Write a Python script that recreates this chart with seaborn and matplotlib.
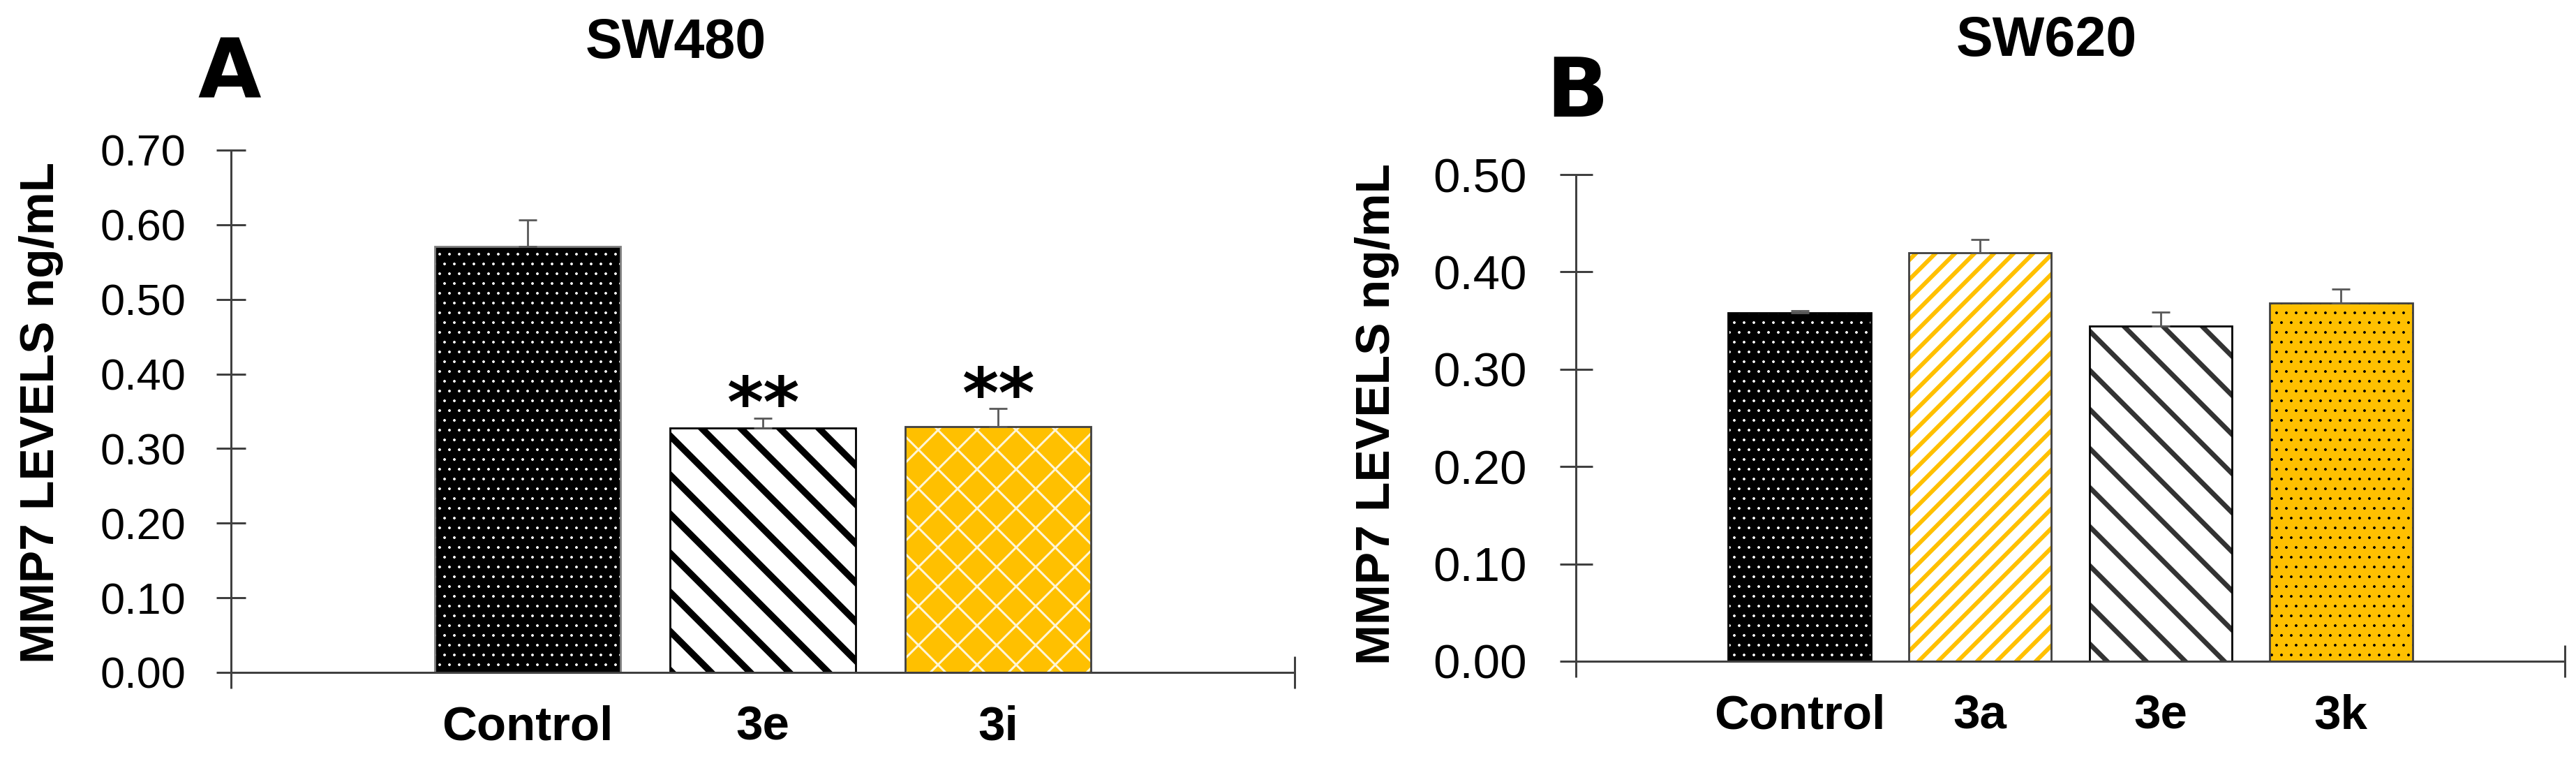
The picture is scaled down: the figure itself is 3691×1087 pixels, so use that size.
import matplotlib
matplotlib.use("Agg")
import matplotlib.pyplot as plt
from matplotlib.patches import Rectangle
import seaborn as sns
import pandas as pd
import numpy as np

# ---------------- data ----------------
ylabel_text = "MMP7 LEVELS ng/mL"

a_letter = "A"
a_title = "SW480"
a_categories = ["Control", "3e", "3i"]
a_values = [0.571, 0.328, 0.329]
a_errors = [0.035, 0.013, 0.025]
a_marks = ["", "**", "**"]
a_yticks = [0.00, 0.10, 0.20, 0.30, 0.40, 0.50, 0.60, 0.70]

b_letter = "B"
b_title = "SW620"
b_categories = ["Control", "3a", "3e", "3k"]
b_values = [0.358, 0.420, 0.344, 0.368]
b_errors = [0.002, 0.013, 0.015, 0.014]
b_marks = ["", "", "", ""]
b_yticks = [0.00, 0.10, 0.20, 0.30, 0.40, 0.50]

# ---------------- figure setup ----------------
W, H, DPI = 3692, 1087, 168


def pt(px):
    """convert pixels of the output image to points"""
    return px * 72.0 / DPI


GOLD = "#FFC000"
# hatch line widths given in output pixels
a_styles = [
    dict(face="black", hatch="..", hcolor="white", hlw=1.0, edge="#7f7f7f"),
    dict(face="white", hatch="\\", hcolor="black", hlw=9.5, edge="black"),
    dict(face=GOLD, hatch="/\\", hcolor="#fff6d8", hlw=3.0, edge="#404040"),
]
b_styles = [
    dict(face="black", hatch="..", hcolor="white", hlw=1.0, edge="black"),
    dict(face="white", hatch="//", hcolor=GOLD, hlw=6.0, edge="#404040"),
    dict(face="white", hatch="\\", hcolor="#333333", hlw=7.0, edge="black"),
    dict(face=GOLD, hatch="..", hcolor="black", hlw=1.0, edge="#404040"),
]

plt.rcParams["font.family"] = ["Liberation Sans", "DejaVu Sans"]
plt.rcParams["hatch.linewidth"] = 1.0
fig = plt.figure(figsize=(W / DPI, H / DPI), dpi=DPI)
AX_COL = "#404040"


def with_hatch_lw(patch, lw_pt):
    if hasattr(patch, "set_hatch_linewidth"):
        try:
            patch.set_hatch_linewidth(lw_pt)
        except Exception:
            pass
    orig = patch.draw

    def draw(renderer, _orig=orig, _lw=lw_pt):
        with plt.rc_context({"hatch.linewidth": _lw}):
            _orig(renderer)

    patch.draw = draw


def panel(rect, cats, vals, errs, marks, styles, yticks, xlim, barw,
          ticksize, ticklen, tickpad, catpad, star_off):
    ax = fig.add_axes(rect)
    df = pd.DataFrame({"cat": cats, "val": vals})
    pal = {c: s["face"] for c, s in zip(cats, styles)}
    sns.barplot(data=df, x="cat", y="val", hue="cat", palette=pal,
                width=barw, saturation=1, errorbar=None, legend=False, ax=ax)
    bars = list(ax.patches)
    for p, st in zip(bars, styles):
        p.set_facecolor(st["face"])
        p.set_hatch(st["hatch"])
        p.set_edgecolor(st["hcolor"])
        p.set_linewidth(0)
        with_hatch_lw(p, pt(st["hlw"]))
        ax.add_patch(Rectangle(p.get_xy(), p.get_width(), p.get_height(),
                               fill=False, edgecolor=st["edge"],
                               linewidth=pt(2.8), zorder=p.get_zorder() + 0.1))
    xs = np.array([p.get_x() + p.get_width() / 2 for p in bars])
    tops = np.array([p.get_height() for p in bars])
    errs = np.asarray(errs)
    ax.errorbar(xs, tops, yerr=[np.zeros_like(errs), errs], fmt="none",
                ecolor="#595959", elinewidth=pt(2.8), capsize=pt(13),
                capthick=pt(2.8), zorder=6)
    for x, t, e, m in zip(xs, tops, errs, marks):
        if m:
            ax.text(x, t + e + star_off, m, ha="center", va="baseline",
                    fontsize=pt(100), family="DejaVu Sans",
                    fontweight="bold", color="black")

    ax.set_ylim(yticks[0], yticks[-1])
    ax.set_yticks(yticks)
    ax.set_yticklabels([f"{v:.2f}" for v in yticks])
    ax.set_xlim(*xlim)
    ax.set_xticks(list(xlim))
    ax.set_xticklabels(["", ""])
    ax.set_xticks(range(len(cats)), minor=True)
    ax.set_xticklabels(cats, minor=True, fontweight="bold", fontsize=pt(69))
    ax.set_xlabel("")
    ax.set_ylabel("")
    ax.tick_params(axis="y", direction="inout", length=pt(ticklen),
                   width=pt(3), color=AX_COL, labelsize=pt(ticksize),
                   pad=pt(tickpad))
    ax.tick_params(axis="x", which="major", direction="inout",
                   length=pt(46), width=pt(3), color=AX_COL)
    ax.tick_params(axis="x", which="minor", length=0, pad=pt(catpad))
    for s in ["top", "right"]:
        ax.spines[s].set_visible(False)
    for s in ["left", "bottom"]:
        ax.spines[s].set_color(AX_COL)
        ax.spines[s].set_linewidth(pt(3))
    ax.set_facecolor("none")
    return ax


def fx(px):
    return px / W


def fy(py):
    return 1 - py / H


# Panel A
a_rect = [fx(331), fy(963), fx(1855) - fx(331), fy(215) - fy(963)]
axA = panel(a_rect, a_categories, a_values, a_errors, a_marks, a_styles,
            a_yticks, (-1.26, 3.26), 0.79, 63, 42, 44, 47, -0.012)

# Panel B
b_rect = [fx(2258), fy(947), fx(3675) - fx(2258), fy(250) - fy(947)]
axB = panel(b_rect, b_categories, b_values, b_errors, b_marks, b_styles,
            b_yticks, (-1.24, 4.24), 0.79, 69, 47, 47, 47, -0.012)

# Titles, letters, y labels
fig.text(fx(968), fy(83), a_title, ha="center", va="baseline",
         fontsize=pt(79), fontweight="bold")
fig.text(fx(2932), fy(80), b_title, ha="center", va="baseline",
         fontsize=pt(79), fontweight="bold")
fig.text(fx(329), fy(140), a_letter, ha="center", va="baseline",
         fontsize=pt(117), fontweight="bold", family="DejaVu Sans")
fig.text(fx(2260), fy(167), b_letter, ha="center", va="baseline",
         fontsize=pt(117), fontweight="bold", family="DejaVu Sans")
fig.text(fx(77), fy(591), ylabel_text, rotation=90, rotation_mode="anchor",
         ha="center", va="baseline", fontsize=pt(69.5), fontweight="bold")
fig.text(fx(1991), fy(593), ylabel_text, rotation=90, rotation_mode="anchor",
         ha="center", va="baseline", fontsize=pt(69.5), fontweight="bold")

fig.savefig("out.png", dpi=DPI, facecolor="white")
